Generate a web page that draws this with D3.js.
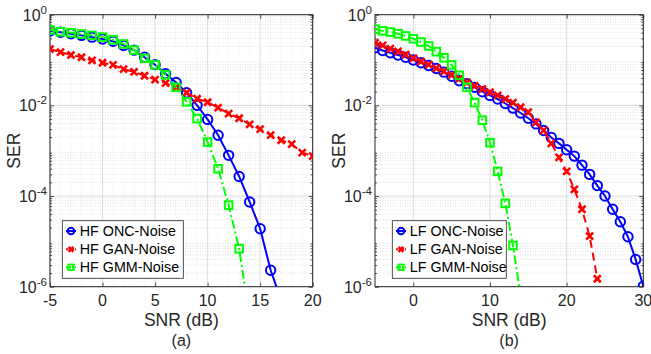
<!DOCTYPE html>
<html>
<head>
<meta charset="utf-8">
<script src="https://cdn.jsdelivr.net/npm/d3@7"></script>
<style>
  body { margin: 0; background: #fff; }
  svg { font-family: "Liberation Sans", Arial, sans-serif; }
</style>
</head>
<body>
<svg id="chart" width="651" height="354"></svg>
<script>
const snrA = [-5,-4,-3,-2,-1,0,1,2,3,4,5,6,7,8,9,10,11,12,13,14,15,16,17,18,19,20];
const snrB = [-5,-4,-3,-2,-1,0,1,2,3,4,5,6,7,8,9,10,11,12,13,14,15,16,17,18,19,20,21,22,23,24,25,26,27,28,29,30];

// (a) HF
const hfOnc = [0.44,0.41,0.38,0.35,0.32,0.29,0.26,0.21,0.165,0.115,0.079,0.050,0.032,0.019,0.010,
  4.9e-3,2.2e-3,7.9e-4,2.7e-4,7.4e-5,1.9e-5,2.3e-6,5.0e-7];
const hfGan = [0.175,0.15,0.129,0.115,0.098,0.087,0.078,0.063,0.055,0.045,0.037,0.031,0.025,0.019,0.014,
  0.0117,8.9e-3,6.6e-3,5.2e-3,3.8e-3,3.0e-3,2.2e-3,1.7e-3,1.4e-3,9.1e-4,7.6e-4];
const hfGmm = [0.46,0.42,0.40,0.375,0.35,0.32,0.28,0.226,0.166,0.109,0.078,0.047,0.025,0.012,5.1e-3,
  1.55e-3,4.0e-4,6.3e-5,6.9e-6,2.0e-7];

// (b) LF
const lfOnc = [0.186,0.162,0.145,0.129,0.115,0.100,0.087,0.076,0.065,0.054,0.044,0.035,0.030,0.025,0.020,
  0.0166,0.0138,0.011,8.7e-3,6.8e-3,5.2e-3,3.9e-3,2.8e-3,1.95e-3,1.45e-3,1.05e-3,7.6e-4,4.8e-4,3.0e-4,
  1.7e-4,1.0e-4,5.1e-5,2.7e-5,1.26e-5,4.0e-6,1.02e-6];
const lfGan = [0.24,0.21,0.178,0.155,0.132,0.11,0.093,0.079,0.066,0.056,0.047,0.039,0.032,0.027,0.023,
  0.0195,0.0166,0.0138,0.0115,9.1e-3,7.1e-3,4.2e-3,2.8e-3,1.45e-3,7.1e-4,3.5e-4,1.4e-4,5.1e-5,1.3e-5,1.5e-6];
const lfGmm = [0.48,0.44,0.415,0.38,0.34,0.295,0.25,0.204,0.153,0.112,0.078,0.046,0.025,0.0115,4.7e-3,
  1.5e-3,3.5e-4,6.9e-5,8.1e-6,6.3e-7];

const yTicks = [1, 1e-2, 1e-4, 1e-6];
const yTickExp = ["0", "-2", "-4", "-6"];
const xTicksA = [-5, 0, 5, 10, 15, 20];
const xTicksB = [0, 10, 20, 30];

const BLUE = "#0000ff", RED = "#ff0000", GREEN = "#00ff00";

const svg = d3.select("#chart");

function drawPanel(cfg) {
  const top = 14.7, bottom = 286.7;
  const x = d3.scaleLinear().domain(cfg.xDomain).range([cfg.left, cfg.right]);
  const y = d3.scaleLog().domain([1e-6, 1]).range([bottom, top]);
  const g = svg.append("g");

  const clipId = "clip" + cfg.id;
  svg.append("clipPath").attr("id", clipId)
    .append("rect").attr("x", cfg.left).attr("y", top)
    .attr("width", cfg.right - cfg.left).attr("height", bottom - top);

  // minor grid (dotted)
  const minorY = [];
  for (let e = -6; e < 0; e++) for (let m = 2; m <= 9; m++) minorY.push(m * Math.pow(10, e));
  g.selectAll(".ymin").data(minorY).enter().append("line")
    .attr("x1", cfg.left).attr("x2", cfg.right)
    .attr("y1", d => y(d)).attr("y2", d => y(d))
    .attr("stroke", "#d8d8d8").attr("stroke-width", 0.8).attr("stroke-dasharray", "1,1.5");
  if (cfg.minorX) {
    g.selectAll(".xmin").data(cfg.minorX).enter().append("line")
      .attr("x1", d => x(d)).attr("x2", d => x(d))
      .attr("y1", top).attr("y2", bottom)
      .attr("stroke", "#ebebeb").attr("stroke-width", 0.8).attr("stroke-dasharray", "1,1.5");
  }
  // major grid
  g.selectAll(".ymaj").data(yTicks).enter().append("line")
    .attr("x1", cfg.left).attr("x2", cfg.right)
    .attr("y1", d => y(d)).attr("y2", d => y(d))
    .attr("stroke", "#dcdcdc").attr("stroke-width", 1);
  g.selectAll(".xmaj").data(cfg.xTicks).enter().append("line")
    .attr("x1", d => x(d)).attr("x2", d => x(d))
    .attr("y1", top).attr("y2", bottom)
    .attr("stroke", "#dcdcdc").attr("stroke-width", 1);

  // axes with inward ticks on all sides
  const tk = 4;
  g.append("g").attr("transform", `translate(0,${bottom})`)
    .call(d3.axisBottom(x).tickValues(cfg.xTicks).tickSizeInner(-tk).tickSizeOuter(0).tickFormat(""));
  g.append("g").attr("transform", `translate(0,${top})`)
    .call(d3.axisTop(x).tickValues(cfg.xTicks).tickSizeInner(-tk).tickSizeOuter(0).tickFormat(""));
  g.append("g").attr("transform", `translate(${cfg.left},0)`)
    .call(d3.axisLeft(y).tickValues(yTicks).tickSizeInner(-tk).tickSizeOuter(0).tickFormat(""));
  g.append("g").attr("transform", `translate(${cfg.right},0)`)
    .call(d3.axisRight(y).tickValues(yTicks).tickSizeInner(-tk).tickSizeOuter(0).tickFormat(""));
  g.append("g").attr("transform", `translate(${cfg.left},0)`)
    .call(d3.axisLeft(y).tickValues(minorY).tickSizeInner(-2).tickSizeOuter(0).tickFormat(""));
  g.append("g").attr("transform", `translate(${cfg.right},0)`)
    .call(d3.axisRight(y).tickValues(minorY).tickSizeInner(-2).tickSizeOuter(0).tickFormat(""));
  g.selectAll(".domain").remove();
  g.selectAll(".tick line").attr("stroke", "#262626").attr("stroke-width", 0.8);

  g.append("rect").attr("x", cfg.left).attr("y", top)
    .attr("width", cfg.right - cfg.left).attr("height", bottom - top)
    .attr("fill", "none").attr("stroke", "#262626").attr("stroke-width", 1);

  // tick labels
  g.selectAll(".xl").data(cfg.xTicks).enter().append("text")
    .attr("x", d => x(d)).attr("y", 306).attr("text-anchor", "middle")
    .attr("font-size", 16).attr("fill", "#262626").text(d => d);
  const yl = g.selectAll(".yl").data(yTicks).enter().append("text")
    .attr("x", cfg.left - 3).attr("y", d => y(d) + 6).attr("text-anchor", "end")
    .attr("font-size", 16).attr("fill", "#262626");
  yl.append("tspan").text("10");
  yl.append("tspan").attr("dy", -7).attr("font-size", 11.5).text((d, i) => yTickExp[i]);

  // axis titles
  const cx = (cfg.left + cfg.right) / 2;
  g.append("text").attr("x", cx).attr("y", 326).attr("text-anchor", "middle")
    .attr("font-size", 17.5).attr("fill", "#262626").text("SNR (dB)");
  g.append("text").attr("x", cx).attr("y", 346).attr("text-anchor", "middle")
    .attr("font-size", 16).attr("fill", "#262626").text(cfg.caption);
  g.append("text")
    .attr("transform", `translate(${cfg.left - 30},${(top + bottom) / 2}) rotate(-90)`)
    .attr("text-anchor", "middle").attr("font-size", 17.5).attr("fill", "#262626").text("SER");

  // series
  const plot = g.append("g").attr("clip-path", `url(#${clipId})`);
  cfg.series.forEach(s => {
    const pts = s.values.map((v, i) => [cfg.snr[i], v]);
    plot.append("path").datum(pts)
      .attr("d", d3.line().x(d => x(d[0])).y(d => y(d[1])))
      .attr("fill", "none").attr("stroke", s.color).attr("stroke-width", 2)
      .attr("stroke-dasharray", s.dash);
    const inside = pts.filter(d => d[1] >= 1e-6);
    drawMarkers(plot, inside.map(d => [x(d[0]), y(d[1])]), s, 1);
  });

  // legend
  const lg = g.append("g");
  lg.append("rect").attr("x", cfg.legX).attr("y", 220.7)
    .attr("width", cfg.legW).attr("height", 57.6)
    .attr("fill", "#fff").attr("stroke", "#262626").attr("stroke-width", 0.8);
  const rows = [231, 249.3, 267.3];
  cfg.series.forEach((s, i) => {
    const mx = cfg.legX + 8.7;
    lg.append("line").attr("x1", mx - 5).attr("x2", mx + 5)
      .attr("y1", rows[i]).attr("y2", rows[i])
      .attr("stroke", s.color).attr("stroke-width", 2)
      .attr("stroke-dasharray", s.dash ? "2,1" : null);
    drawMarkers(lg, [[mx, rows[i]]], s, 0.7);
    lg.append("text").attr("x", cfg.legX + 17.5).attr("y", rows[i] + 5)
      .attr("font-size", 14.3).attr("fill", "#000").text(s.name);
  });
}

function drawMarkers(sel, pts, s, k) {
  if (s.marker === "circle") {
    sel.selectAll(null).data(pts).enter().append("circle")
      .attr("cx", d => d[0]).attr("cy", d => d[1]).attr("r", 4.7 * k)
      .attr("fill", "none").attr("stroke", s.color).attr("stroke-width", 2);
  } else if (s.marker === "square") {
    const h = 3.8 * k;
    sel.selectAll(null).data(pts).enter().append("rect")
      .attr("x", d => d[0] - h).attr("y", d => d[1] - h)
      .attr("width", 2 * h).attr("height", 2 * h)
      .attr("fill", "none").attr("stroke", s.color).attr("stroke-width", 2);
  } else {
    const h = 3.5 * k;
    sel.selectAll(null).data(pts).enter().append("path")
      .attr("d", d => `M${d[0] - h},${d[1] - h}L${d[0] + h},${d[1] + h}M${d[0] - h},${d[1] + h}L${d[0] + h},${d[1] - h}`)
      .attr("stroke", s.color).attr("stroke-width", 2.6).attr("fill", "none");
  }
}

drawPanel({
  id: "a", left: 50, right: 312.7, xDomain: [-5, 20], xTicks: xTicksA, snr: snrA,
  minorX: [-4,-3,-2,-1,1,2,3,4,6,7,8,9,11,12,13,14,16,17,18,19],
  caption: "(a)", legX: 62.3, legW: 121,
  series: [
    { name: "HF ONC-Noise", values: hfOnc, color: BLUE, marker: "circle", dash: null },
    { name: "HF GAN-Noise", values: hfGan, color: RED, marker: "x", dash: "8,5" },
    { name: "HF GMM-Noise", values: hfGmm, color: GREEN, marker: "square", dash: "9,3,2,3" }
  ]
});

drawPanel({
  id: "b", left: 375, right: 643.3, xDomain: [-5, 30], xTicks: xTicksB, snr: snrB,
  caption: "(b)", legX: 392.3, legW: 114,
  series: [
    { name: "LF ONC-Noise", values: lfOnc, color: BLUE, marker: "circle", dash: null },
    { name: "LF GAN-Noise", values: lfGan, color: RED, marker: "x", dash: "8,5" },
    { name: "LF GMM-Noise", values: lfGmm, color: GREEN, marker: "square", dash: "9,3,2,3" }
  ]
});
</script>
</body>
</html>
